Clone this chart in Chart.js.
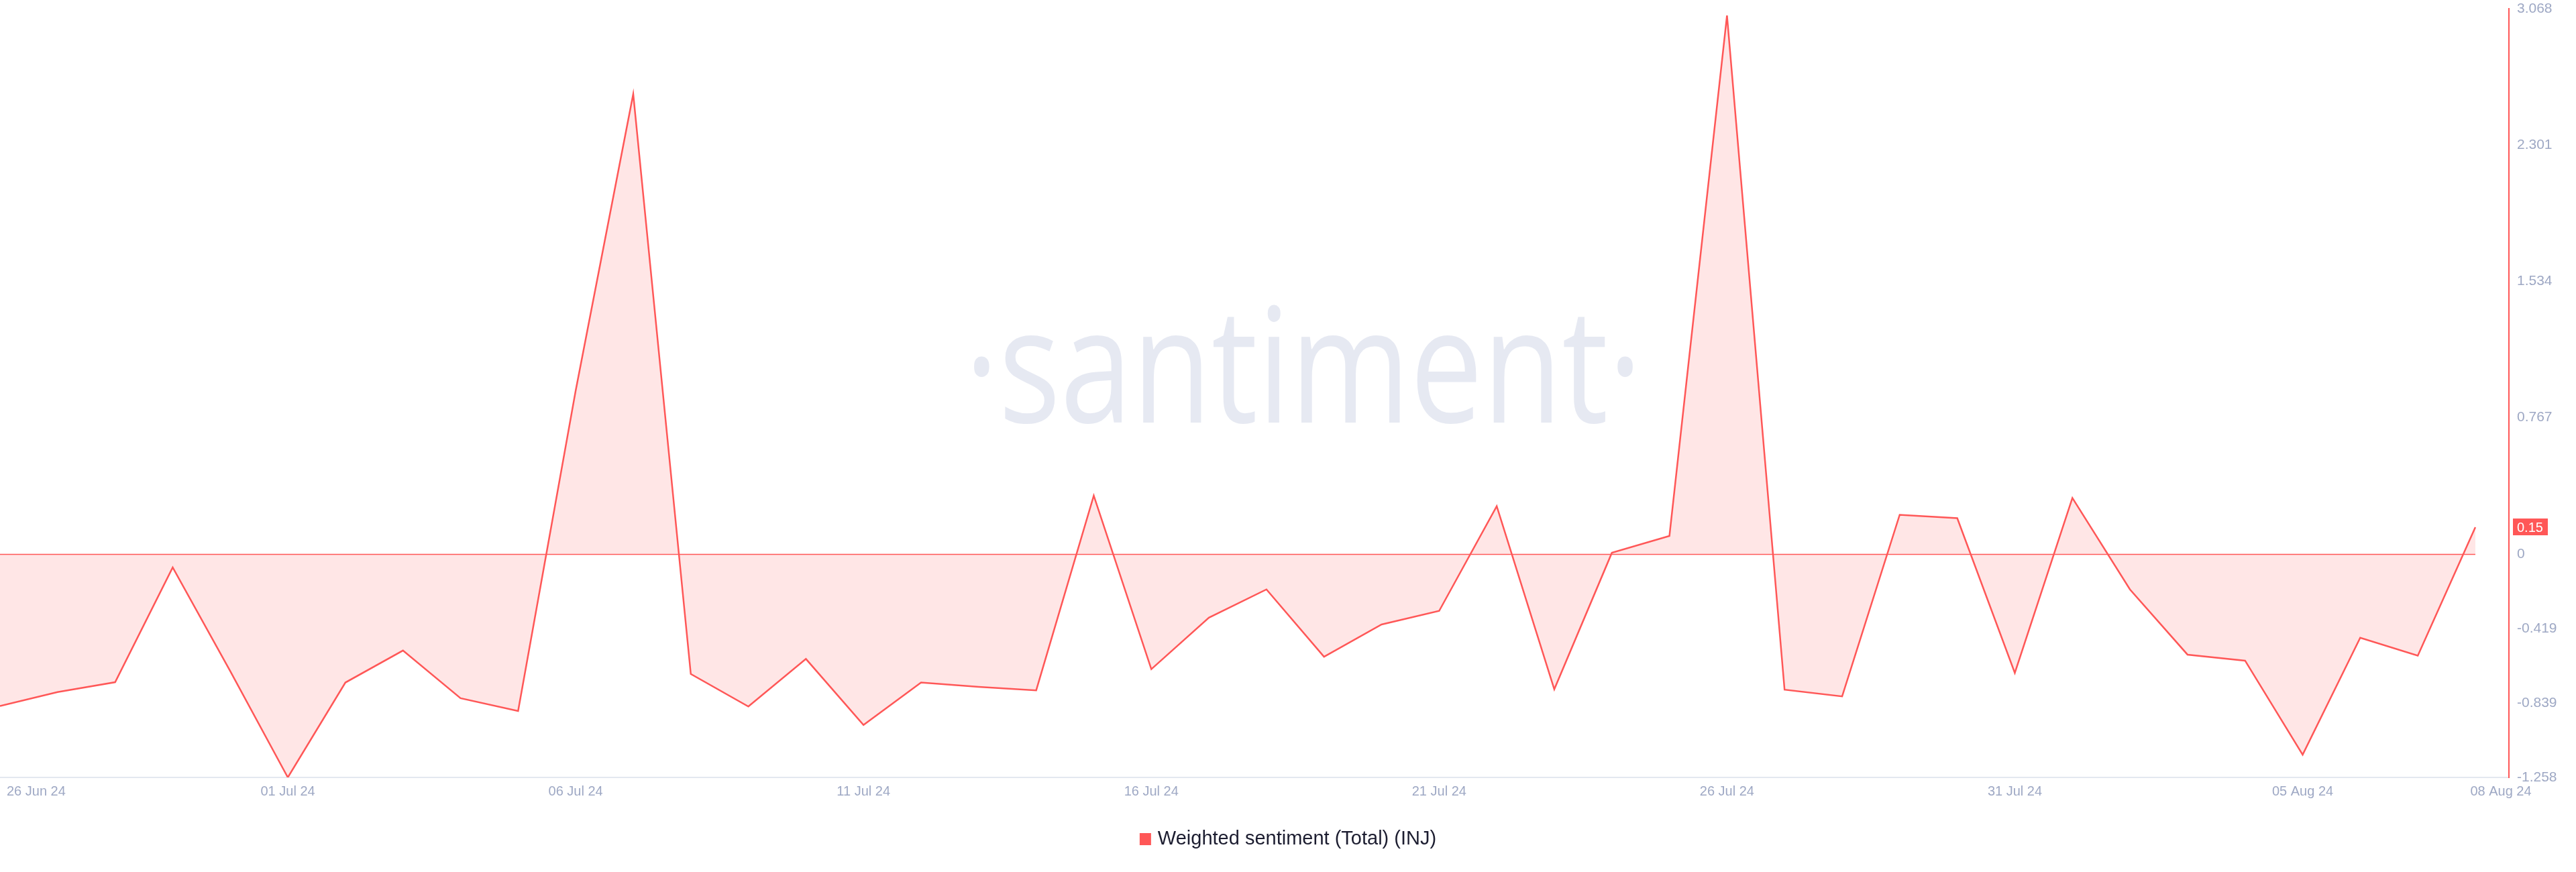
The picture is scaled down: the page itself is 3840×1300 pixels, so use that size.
<!DOCTYPE html>
<html>
<head>
<meta charset="utf-8">
<title>Weighted sentiment (Total) (INJ)</title>
<script src="https://cdn.jsdelivr.net/npm/chart.js@4.4.1/dist/chart.umd.min.js"></script>
<style>
    html, body { margin: 0; padding: 0; background: #fff; }
    #wrap { width: 3840px; height: 1300px; }
</style>
</head>
<body>
<div id="wrap"><canvas id="sentimentChart" width="3840" height="1300"></canvas></div>
<script>
// Daily dates (26 Jun 24 - 08 Aug 24)
const dates = [
    '26 Jun 24', '27 Jun 24', '28 Jun 24', '29 Jun 24', '30 Jun 24',
    '01 Jul 24', '02 Jul 24', '03 Jul 24', '04 Jul 24', '05 Jul 24',
    '06 Jul 24', '07 Jul 24', '08 Jul 24', '09 Jul 24', '10 Jul 24',
    '11 Jul 24', '12 Jul 24', '13 Jul 24', '14 Jul 24', '15 Jul 24',
    '16 Jul 24', '17 Jul 24', '18 Jul 24', '19 Jul 24', '20 Jul 24',
    '21 Jul 24', '22 Jul 24', '23 Jul 24', '24 Jul 24', '25 Jul 24',
    '26 Jul 24', '27 Jul 24', '28 Jul 24', '29 Jul 24', '30 Jul 24',
    '31 Jul 24', '01 Aug 24', '02 Aug 24', '03 Aug 24', '04 Aug 24',
    '05 Aug 24', '06 Aug 24', '07 Aug 24', '08 Aug 24'
];

// Weighted sentiment values
const sentiment = [
    -0.856, -0.778, -0.722, -0.076, -0.66,
    -1.258, -0.724, -0.544, -0.812, -0.884,
    0.918, 2.588, -0.676, -0.859, -0.591,
    -0.963, -0.724, -0.748, -0.768, 0.328,
    -0.649, -0.359, -0.200, -0.579, -0.397,
    -0.321, 0.268, -0.762, 0.006, 0.101,
    3.03, -0.764, -0.802, 0.220, 0.201,
    -0.670, 0.315, -0.200, -0.567, -0.601,
    -1.130, -0.472, -0.573, 0.15
];

// Axis ticks
const xTickIndex = [0, 5, 10, 15, 20, 25, 30, 35, 40, 43];
const yTicks = [3.068, 2.301, 1.534, 0.767, 0, -0.419, -0.839, -1.258];

const seriesLabel = 'Weighted sentiment (Total) (INJ)';
const watermarkText = '\u00B7santiment\u00B7';

const lineColor = '#ff5757';
const fillColor = 'rgba(255, 87, 87, 0.15)';
const tickColor = '#9ea8c4';
const fontFamily = '"Liberation Sans", Arial, sans-serif';

Chart.defaults.font.family = fontFamily;

// Watermark, zero line, x labels, legend and last value badge
const santimentExtras = {
    id: 'santimentExtras',
    beforeDraw(chart) {
        const ctx = chart.ctx;
        ctx.save();
        ctx.font = '400 238px "Open Sans"';
        const w = ctx.measureText(watermarkText).width;
        ctx.translate(1943, 630);
        ctx.scale(1010 / w, 1);
        ctx.textAlign = 'center';
        ctx.textBaseline = 'alphabetic';
        ctx.fillStyle = '#e6e9f2';
        ctx.fillText(watermarkText, 0, 0);
        ctx.restore();
    },
    afterDatasetsDraw(chart) {
        const ctx = chart.ctx;
        const x = chart.scales.x;
        const y = chart.scales.y;
        const y0 = Math.round(y.getPixelForValue(0)) + 0.5;
        ctx.save();
        ctx.strokeStyle = lineColor;
        ctx.lineWidth = 1.5;
        ctx.beginPath();
        ctx.moveTo(chart.chartArea.left, y0);
        ctx.lineTo(x.getPixelForValue(sentiment.length - 1), y0);
        ctx.stroke();
        ctx.restore();
    },
    afterDraw(chart) {
        const ctx = chart.ctx;
        const x = chart.scales.x;
        const y = chart.scales.y;
        const area = chart.chartArea;

        // x tick labels
        ctx.save();
        ctx.font = '20px ' + fontFamily;
        ctx.fillStyle = tickColor;
        ctx.textAlign = 'center';
        ctx.textBaseline = 'middle';
        xTickIndex.forEach((idx, i) => {
            const text = dates[idx];
            const w = ctx.measureText(text).width;
            let px = x.getPixelForValue(idx);
            if (i === xTickIndex.length - 1) px = area.right - 12;
            px = Math.max(px, 10 + w / 2);
            ctx.fillText(text, px, area.bottom + 21);
        });
        ctx.restore();

        // legend
        ctx.save();
        ctx.font = '29px ' + fontFamily;
        const tw = ctx.measureText(seriesLabel).width;
        const lx = chart.width / 2 - (17 + 10 + tw) / 2;
        ctx.fillStyle = lineColor;
        ctx.fillRect(lx, 1242, 17, 18);
        ctx.fillStyle = '#1c1d30';
        ctx.textBaseline = 'middle';
        ctx.fillText(seriesLabel, lx + 27, 1251);
        ctx.restore();

        // last value badge
        const last = sentiment[sentiment.length - 1];
        const by = y.getPixelForValue(last);
        ctx.save();
        ctx.fillStyle = lineColor;
        ctx.fillRect(area.right + 6, by - 13, 52, 25);
        ctx.fillStyle = '#ffffff';
        ctx.font = '20px ' + fontFamily;
        ctx.textBaseline = 'middle';
        ctx.fillText(String(last), area.right + 12, by + 1);
        ctx.restore();
    }
};

const ctx = document.getElementById('sentimentChart').getContext('2d');
new Chart(ctx, {
    type: 'line',
    data: {
        datasets: [{
            label: seriesLabel,
            data: sentiment.map((v, i) => ({ x: i, y: v })),
            borderColor: lineColor,
            backgroundColor: fillColor,
            borderWidth: 2.5,
            pointRadius: 0,
            tension: 0,
            fill: 'origin'
        }]
    },
    options: {
        responsive: false,
        animation: false,
        devicePixelRatio: 1,
        layout: {
            autoPadding: false,
            padding: { top: 13, bottom: 141, left: 0, right: 0 }
        },
        plugins: {
            legend: { display: false },
            tooltip: { enabled: false }
        },
        scales: {
            x: {
                type: 'linear',
                min: 0,
                max: 43.583,
                grid: { display: false },
                border: { display: true, color: '#e3e8f0', width: 2 },
                ticks: { display: false },
                afterFit: (scale) => {
                    scale.height = 0;
                    scale.paddingLeft = 0;
                    scale.paddingRight = 0;
                }
            },
            y: {
                position: 'right',
                min: -1.258,
                max: 3.068,
                grace: 0,
                grid: { display: false, drawTicks: false },
                border: { display: true, color: lineColor, width: 2 },
                afterBuildTicks: (scale) => {
                    scale.ticks = yTicks.map(v => ({ value: v }));
                },
                afterFit: (scale) => {
                    scale.width = 100;
                    scale.paddingTop = 0;
                    scale.paddingBottom = 0;
                },
                ticks: {
                    color: tickColor,
                    padding: 12,
                    font: { size: 21 },
                    callback: (v) => String(v)
                }
            }
        }
    },
    plugins: [santimentExtras]
});
</script>
</body>
</html>
